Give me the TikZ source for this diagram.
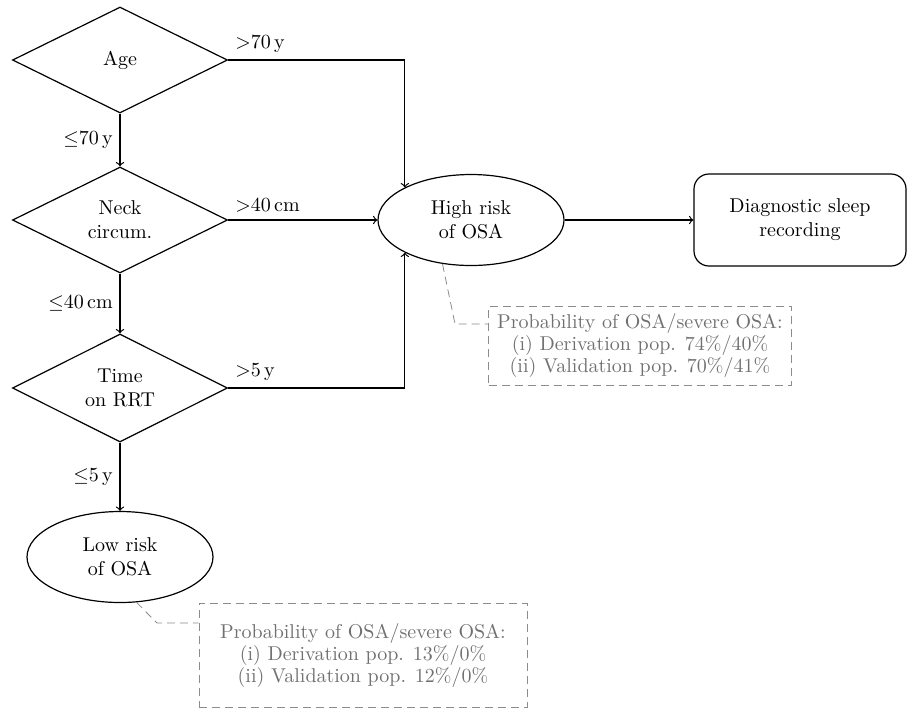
\documentclass[tikz,border=0pt]{standalone}
\usetikzlibrary{shapes.geometric}

\definecolor{notegray}{HTML}{707070}
\definecolor{dashgray}{HTML}{8C8C8C}

\begin{document}
\begin{tikzpicture}[x=0.5pt,y=-0.5pt,>=to,semithick,
    decision/.style={diamond,draw,minimum width=107.5pt,minimum height=53pt,inner sep=0pt,align=center},
    risk/.style={ellipse,draw,minimum width=93pt,minimum height=45.5pt,inner sep=0pt,align=center},
    process/.style={rectangle,draw,rounded corners=7.5pt,minimum width=106pt,minimum height=46pt,align=center},
    note/.style={rectangle,draw=dashgray,thin,dash pattern=on 4pt off 2.5pt,text=notegray,align=center,inner sep=0pt,
      font=\fontsize{10}{11}\selectfont},
    notelink/.style={draw=dashgray,thin,dash pattern=on 4pt off 2.5pt}]

  \useasboundingbox (0,0) rectangle (909,708);

  \node[decision] (age)  at (120,60)  {Age};
  \node[decision] (neck) at (120,220) {Neck\\circum.};
  \node[decision] (time) at (120,388) {Time\\on RRT};

  \node[risk] (high) at (471,220) {High risk\\of OSA};
  \node[risk] (low)  at (120,557) {Low risk\\of OSA};

  \node[process] (sleep) at (800,220) {Diagnostic sleep\\recording};

  \node[note,minimum width=151.5pt,minimum height=39.5pt] (highnote) at (640,345.5)
    {Probability of OSA/severe OSA:\\(i) Derivation pop. 74\%/40\%\\(ii) Validation pop. 70\%/41\%};
  \node[note,minimum width=164pt,minimum height=52pt] (lownote) at (363,655)
    {Probability of OSA/severe OSA:\\(i) Derivation pop. 13\%/0\%\\(ii) Validation pop. 12\%/0\%};

  % yes branches
  \draw[->] (age.east) node[above right] {$>$70\,y} -| (high.north west);
  \draw[->] (neck.east) node[above right] {$>$40\,cm} -- (high.west);
  \draw[->] (time.east) node[above right] {$>$5\,y} -| (high.south west);
  \draw[->] (high.east) -- (sleep.west);

  % no branches
  \draw[->] (age.south) -- node[left] {$\leq$70\,y} (neck.north);
  \draw[->] (neck.south) -- node[left] {$\leq$40\,cm} (time.north);
  \draw[->] (time.south) -- node[left] {$\leq$5\,y} (low.north);

  % notes
  \coordinate (hk) at (455,324);
  \coordinate (lk) at (157,623);
  \path[notelink] (high.237) -- (hk) -- (hk -| highnote.west);
  \path[notelink] (low.290) -- (lk) -- (lk -| lownote.west);

\end{tikzpicture}
\end{document}
